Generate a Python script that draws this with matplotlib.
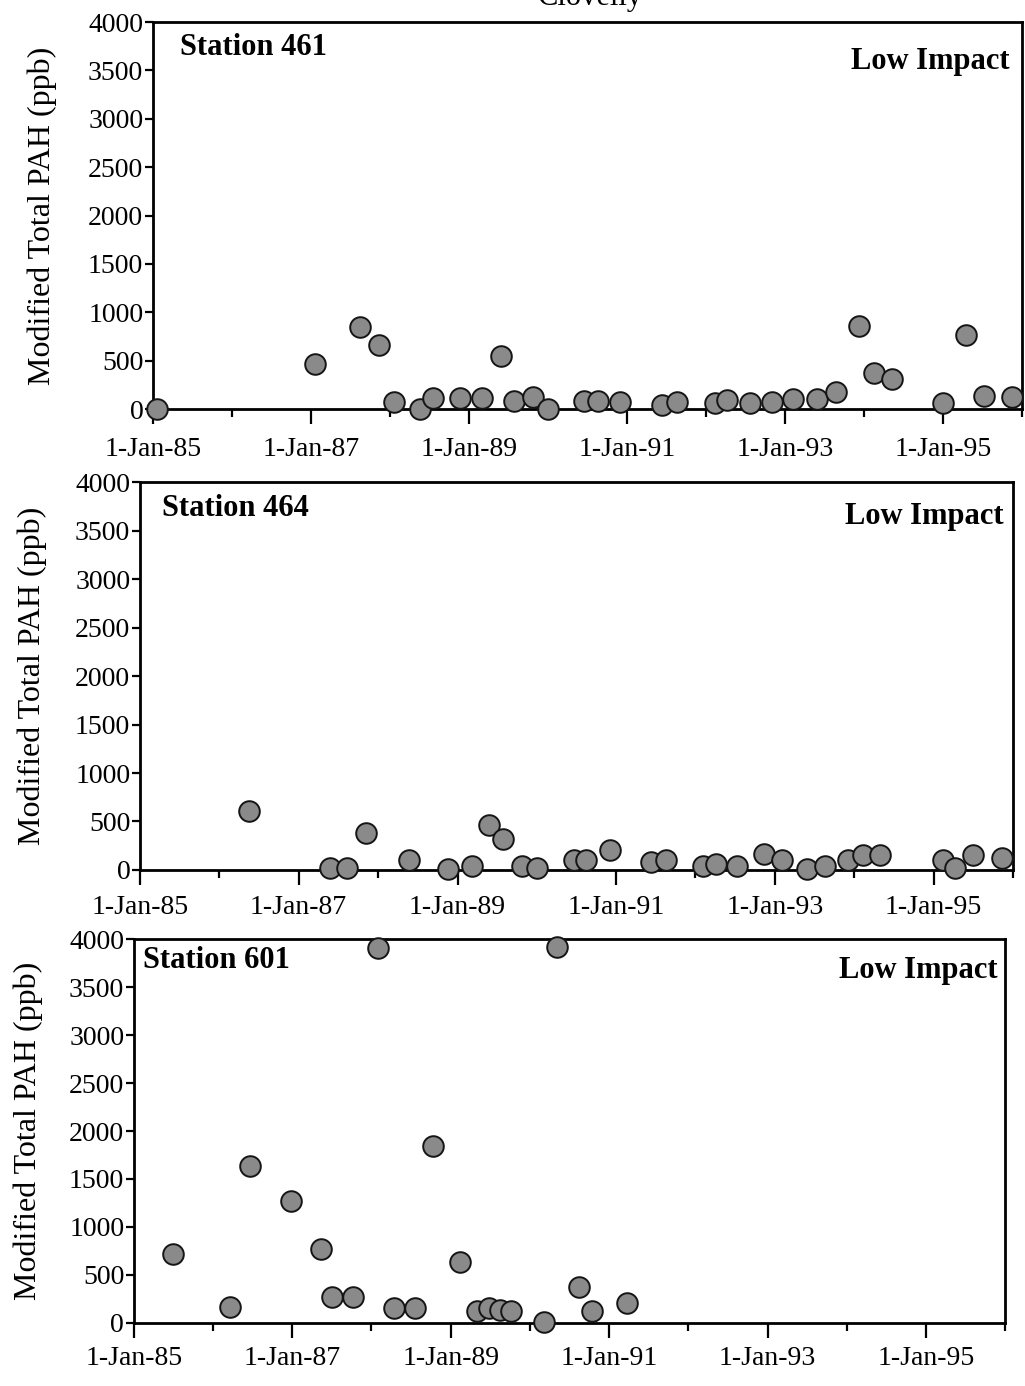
import matplotlib
matplotlib.use("Agg")
import matplotlib.pyplot as plt
import matplotlib.dates as mdates
from matplotlib.ticker import FixedLocator
from datetime import datetime

# ---------------- data ----------------
st461_dates = ["1985-01-20", "1987-01-22", "1987-08-15", "1987-11-10", "1988-01-20",
               "1988-05-18", "1988-07-20", "1988-11-20", "1989-03-03", "1989-05-30",
               "1989-07-27", "1989-10-22", "1990-01-01", "1990-06-18", "1990-08-18",
               "1990-12-01", "1991-06-10", "1991-08-18", "1992-02-10", "1992-04-05",
               "1992-07-23", "1992-11-03", "1993-02-06", "1993-05-27", "1993-08-25",
               "1993-12-10", "1994-02-14", "1994-05-08", "1995-01-01", "1995-04-16",
               "1995-07-09", "1995-11-14"]
st461_pah = [0, 470, 850, 660, 70,
             0, 115, 113, 116, 551,
             87, 128, 0, 78, 80,
             72, 42, 72, 67, 97,
             65, 68, 99, 103, 175,
             857, 370, 310, 60, 770,
             135, 122]

st464_dates = ["1986-05-18", "1987-05-27", "1987-08-11", "1987-11-06", "1988-05-22",
               "1988-11-20", "1989-03-10", "1989-05-27", "1989-07-27", "1989-10-26",
               "1990-01-01", "1990-06-20", "1990-08-15", "1990-12-05", "1991-06-10",
               "1991-08-18", "1992-02-03", "1992-04-05", "1992-07-12", "1992-11-10",
               "1993-02-03", "1993-05-30", "1993-08-18", "1993-12-01", "1994-02-10",
               "1994-04-27", "1995-02-14", "1995-04-10", "1995-07-01", "1995-11-10"]
st464_pah = [606, 20, 22, 382, 106,
             15, 46, 461, 319, 46,
             21, 101, 103, 209, 78,
             101, 44, 63, 42, 162,
             106, 7, 43, 98, 152,
             154, 104, 18, 157, 127]

st601_dates = ["1985-06-28", "1986-03-20", "1986-06-18", "1986-12-28", "1987-05-12",
               "1987-07-01", "1987-10-08", "1988-01-30", "1988-04-16", "1988-07-20",
               "1988-10-12", "1989-02-14", "1989-05-01", "1989-06-25", "1989-08-18",
               "1989-10-05", "1990-03-08", "1990-05-05", "1990-08-15", "1990-10-16",
               "1991-03-25"]
st601_pah = [720, 164, 1634, 1268, 774,
             264, 267, 3908, 150, 153,
             1844, 629, 120, 150, 130,
             120, 7, 3921, 374, 125,
             207]

stations = ["Station 461", "Station 464", "Station 601"]
impact_label = "Low Impact"
y_label = "Modified Total PAH (ppb)"
y_ticks = [0, 500, 1000, 1500, 2000, 2500, 3000, 3500, 4000]
x_major_dates = ["1985-01-01", "1987-01-01", "1989-01-01", "1991-01-01",
                 "1993-01-01", "1995-01-01"]
x_major_labels = ["1-Jan-85", "1-Jan-87", "1-Jan-89", "1-Jan-91", "1-Jan-93", "1-Jan-95"]
x_minor_dates = ["1986-01-01", "1988-01-01", "1990-01-01", "1992-01-01",
                 "1994-01-01", "1996-01-01"]
x_start, x_end = "1985-01-01", "1996-01-01"

# ---------------- figure ----------------
plt.rcParams["font.family"] = ["Liberation Serif", "DejaVu Serif"]

fig = plt.figure(figsize=(10.25, 13.86), dpi=100)

rects = [
    [0.1493, 0.7049, 0.8478, 0.2792],
    [0.1366, 0.3723, 0.8517, 0.2799],
    [0.1307, 0.0457, 0.8498, 0.2765],
]
ylab_x = [-0.128, -0.123, -0.121]
x_pads = [9, 7, 6]
station_pos = [(0.031, 0.935), (0.025, 0.933), (0.010, 0.946)]
impact_pos = [(0.986, 0.899), (0.989, 0.910), (0.991, 0.918)]

series = [(st461_dates, st461_pah), (st464_dates, st464_pah), (st601_dates, st601_pah)]

def to_dt(s):
    return datetime.strptime(s, "%Y-%m-%d")

major_nums = [mdates.date2num(to_dt(s)) for s in x_major_dates]
minor_nums = [mdates.date2num(to_dt(s)) for s in x_minor_dates]

for i, (rect, (dates, vals)) in enumerate(zip(rects, series)):
    ax = fig.add_axes(rect)
    d = [to_dt(s) for s in dates]
    ax.scatter(d, vals, s=220, facecolor="#8a8a8a", edgecolor="#151515",
               linewidths=1.4, zorder=5, clip_on=False)
    ax.set_xlim(to_dt(x_start), to_dt(x_end))
    ax.set_ylim(0, 4000)
    ax.set_yticks(y_ticks)
    ax.set_yticklabels([str(v) for v in y_ticks])

    ax.xaxis.set_major_locator(FixedLocator(major_nums))
    ax.xaxis.set_minor_locator(FixedLocator(minor_nums))
    ax.set_xticklabels(x_major_labels)

    ax.tick_params(axis="x", which="major", direction="out", length=11, width=1.6,
                   labelsize=20, pad=x_pads[i])
    ax.tick_params(axis="x", which="minor", direction="out", length=6, width=1.6)
    ax.tick_params(axis="y", which="major", direction="out", length=6, width=1.6,
                   labelsize=20, pad=1)
    for sp in ax.spines.values():
        sp.set_linewidth(2.0)
        sp.set_color("black")

    ax.set_ylabel(y_label, fontsize=23, va="center")
    ax.yaxis.set_label_coords(ylab_x[i], 0.5)

    ax.text(station_pos[i][0], station_pos[i][1], stations[i], transform=ax.transAxes,
            fontsize=22, fontweight="bold", ha="left", va="center")
    ax.text(impact_pos[i][0], impact_pos[i][1], impact_label, transform=ax.transAxes,
            fontsize=22, fontweight="bold", ha="right", va="center")

fig.text(0.576, 1.002, "Clovelly", fontsize=22, ha="center", va="center")

fig.savefig("out.png", dpi=100)
